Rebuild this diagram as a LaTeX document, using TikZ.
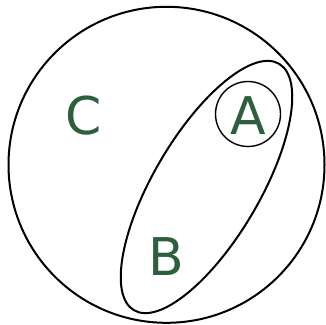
\documentclass[tikz,border=0pt]{standalone}
\usepackage{fontspec}
\setmainfont{DejaVu Sans}
\definecolor{lbl}{HTML}{2D5E3D}
\begin{document}
\begin{tikzpicture}[x=1pt,y=-1pt,
  setline/.style={draw=black,line width=2pt},
  thinline/.style={draw=black,line width=1.4pt},
  lbltext/.style={text=lbl,inner sep=0pt,font=\fontsize{52}{52}\selectfont}]
\useasboundingbox (0,0) rectangle (326,324);
\node[setline,circle,minimum size=316pt,inner sep=0pt] (C) at (166.5,164.8) {};
\draw[setline] (206.5,187) ellipse [x radius=143pt, y radius=53pt, rotate=59.5];
\node[thinline,circle,minimum size=65pt,inner sep=0pt] (A) at (248,114) {};
\node[lbltext] (tC) at (83.5,116) {C};
\node[lbltext] (tA) at (248,116) {A};
\node[lbltext] (tB) at (166,257) {B};
\end{tikzpicture}
\end{document}
